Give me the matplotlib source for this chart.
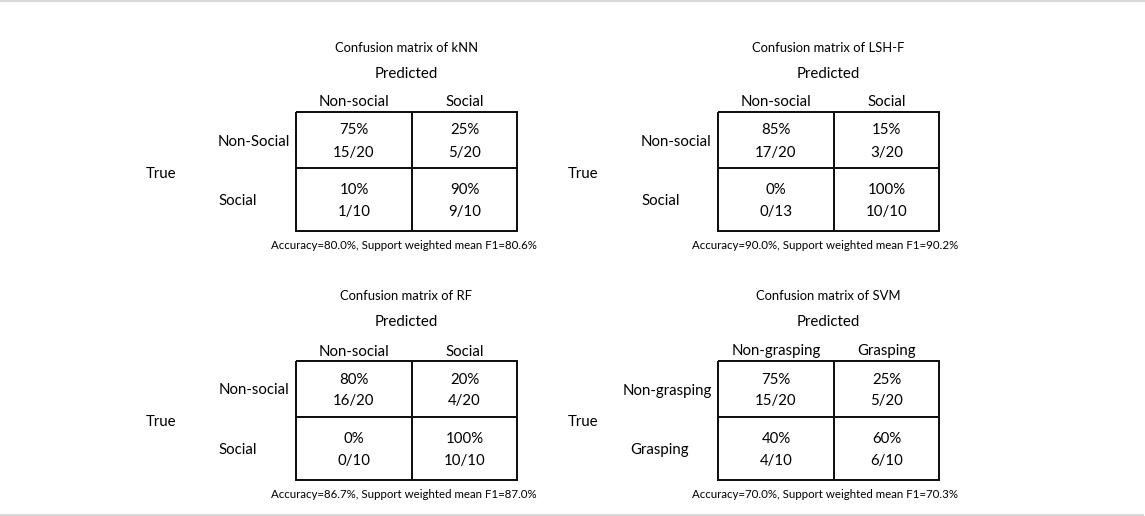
import numpy as np
import matplotlib
matplotlib.use('Agg')
import matplotlib.pyplot as plt
from matplotlib.lines import Line2D

plt.rcParams['font.family'] = ['Lato', 'DejaVu Sans']

# ---- data ----
models = ['kNN', 'LSH-F', 'RF', 'SVM']
row_labels = [['Non-Social', 'Social'],
              ['Non-social', 'Social'],
              ['Non-social', 'Social'],
              ['Non-grasping', 'Grasping']]
col_labels = [['Non-social', 'Social'],
              ['Non-social', 'Social'],
              ['Non-social', 'Social'],
              ['Non-grasping', 'Grasping']]
percents = [[[75, 25], [10, 90]],
            [[85, 15], [0, 100]],
            [[80, 20], [0, 100]],
            [[75, 25], [40, 60]]]
counts = [[[15, 5], [1, 9]],
          [[17, 3], [0, 10]],
          [[16, 4], [0, 10]],
          [[15, 5], [4, 6]]]
totals = [[[20, 20], [10, 10]],
          [[20, 20], [13, 10]],
          [[20, 20], [10, 10]],
          [[20, 20], [10, 10]]]
accuracy = [80.0, 90.0, 86.7, 70.0]
f1 = [80.6, 90.2, 87.0, 70.3]

# ---- layout (pixels) ----
W, H = 1145, 516
fig = plt.figure(figsize=(W / 100, H / 100), dpi=100)

# table top-left corner of each panel
origins = [(296, 112), (718, 112), (296, 361), (718, 361)]
tw, th = 221, 119
x_edges = np.array([0, 116, tw])
y_edges = np.array([0, 56, th])
# left offset of each row label from table's left edge
row_label_x = [[-78, -78], [-77, -77], [-77, -78], [-95, -88]]
big = 10.8
dy = 1.5  # small downward nudge of text

for k, model in enumerate(models):
    ox, oy = origins[k]
    ax = fig.add_axes([ox / W, 1 - (oy + th) / H, tw / W, th / H])
    ax.set_xlim(0, tw)
    ax.set_ylim(th, 0)
    ax.axis('off')

    mesh = ax.pcolormesh(x_edges, y_edges, np.zeros((2, 2)), cmap='Greys',
                         vmin=0, vmax=1, edgecolors='#111111', linewidth=1.1)
    mesh.set_clip_on(False)

    xc = (x_edges[:-1] + x_edges[1:]) / 2
    yc = (y_edges[:-1] + y_edges[1:]) / 2
    for i in range(2):
        for j in range(2):
            ax.text(xc[j], yc[i] - 11 + dy, f"{percents[k][i][j]}%",
                    ha='center', va='center', fontsize=big)
            ax.text(xc[j], yc[i] + 11 + dy, f"{counts[k][i][j]}/{totals[k][i][j]}",
                    ha='center', va='center', fontsize=big)
        ax.text(xc[i], -11 + dy, col_labels[k][i], ha='center', va='center',
                fontsize=big, clip_on=False)
        ax.text(row_label_x[k][i], yc[i] + dy, row_labels[k][i], ha='left',
                va='center', fontsize=big, clip_on=False)

    ax.text(tw / 2, -66 + dy, f"Confusion matrix of {model}", ha='center',
            va='center', fontsize=9.4, clip_on=False)
    ax.text(tw / 2, -40 + dy, "Predicted", ha='center', va='center',
            fontsize=big, clip_on=False)
    ax.text(-150, 60 + dy, "True", ha='left', va='center', fontsize=big,
            clip_on=False)
    ax.text(tw / 2 - 3, 132 + dy,
            f"Accuracy={accuracy[k]:.1f}%, Support weighted mean F1={f1[k]:.1f}%",
            ha='center', va='center', fontsize=8.3, clip_on=False)

# light grey frame lines at top and bottom
fig.add_artist(Line2D([0, 1], [1 - 1 / H, 1 - 1 / H], color='#d9d9d9', lw=1.5))
fig.add_artist(Line2D([0, 1143 / W], [1 - 514.5 / H, 1 - 514.5 / H],
                      color='#d9d9d9', lw=1.5))

fig.savefig('out.png', dpi=100)
